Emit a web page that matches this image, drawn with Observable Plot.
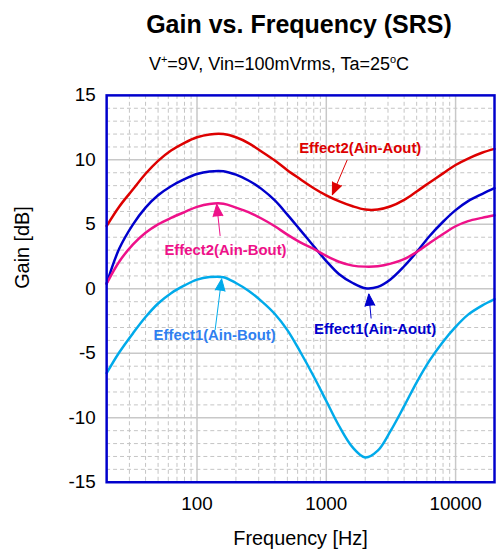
<!DOCTYPE html>
<html>
<head>
<meta charset="utf-8">
<script src="https://cdn.jsdelivr.net/npm/d3@7"></script>
<script src="https://cdn.jsdelivr.net/npm/@observablehq/plot@0.6"></script>
<style>
html, body { margin: 0; padding: 0; background: #fff; overflow: hidden; width: 496px; height: 556px; }
#wrap { position: relative; width: 496px; height: 556px; overflow: hidden; font-family: "Liberation Sans", Arial, sans-serif; color: #000; }
.ttl { position: absolute; width: 600px; text-align: center; white-space: nowrap; line-height: 1; }
#title { left: -1px; top: 12px; font-size: 25px; font-weight: bold; }
#subtitle { left: -21px; top: 55px; font-size: 18px; }
.sp { position: relative; font-size: 11px; top: -7px; }
#chart { position: absolute; left: 0; top: 80px; }
</style>
</head>
<body>
<div id="wrap">
  <div id="title" class="ttl">Gain vs. Frequency (SRS)</div>
  <div id="subtitle" class="ttl">V<span class="sp">+</span>=9V, Vin=100mVrms, Ta=25<span class="sp">o</span>C</div>
  <div id="chart"></div>
</div>
<script>
// ---- data (1/3-octave frequencies) ----
const freq = [20, 25, 32, 40, 50, 63, 80, 100, 125, 160, 200, 250, 315, 400, 500, 630, 800, 1000, 1250, 1600, 2000, 2500, 3150, 4000, 5000, 6300, 8000, 10000, 12500, 16000, 20000];
const effect2AinAout = [4.87, 6.37, 7.72, 8.92, 9.92, 10.72, 11.32, 11.75, 11.97, 12.0, 11.75, 11.3, 10.65, 9.95, 9.2, 8.5, 7.8, 7.25, 6.8, 6.4, 6.15, 6.15, 6.4, 6.9, 7.55, 8.25, 8.95, 9.6, 10.1, 10.55, 10.85];
const effect1AinAout = [0.4, 3.1, 5.0, 6.3, 7.25, 7.95, 8.5, 8.9, 9.1, 9.12, 8.85, 8.4, 7.75, 6.85, 5.75, 4.55, 3.3, 2.15, 1.15, 0.45, 0.05, 0.15, 0.75, 1.75, 2.85, 4.1, 5.2, 6.1, 6.8, 7.35, 7.8];
const effect2AinBout = [0.4, 2.1, 3.45, 4.35, 5.0, 5.5, 5.95, 6.35, 6.58, 6.6, 6.3, 5.95, 5.45, 4.85, 4.2, 3.6, 3.1, 2.55, 2.1, 1.8, 1.72, 1.75, 1.95, 2.3, 2.85, 3.55, 4.25, 4.85, 5.25, 5.5, 5.7];
const effect1AinBout = [-6.54, -4.94, -3.44, -2.19, -1.14, -0.34, 0.26, 0.71, 0.91, 0.9, 0.45, -0.15, -0.95, -1.95, -3.2, -4.9, -6.8, -8.7, -10.6, -12.3, -13.08, -12.55, -11.0, -9.1, -7.25, -5.55, -4.1, -2.95, -2.0, -1.3, -0.8];

const xTicks = [100, 1000, 10000];
const yTicks = [-15, -10, -5, 0, 5, 10, 15];

const seriesNames = ["Effect2(Ain-Aout)", "Effect1(Ain-Aout)", "Effect2(Ain-Bout)", "Effect1(Ain-Bout)"];
const seriesValues = [effect2AinAout, effect1AinAout, effect2AinBout, effect1AinBout];
const seriesColors = ["#dd0000", "#0000cc", "#ee1189", "#00aaea"];

// annotations: label position, arrow tail, arrow tip (frequency, gain)
const annLabels = ["Effect2(Ain-Aout)", "Effect2(Ain-Bout)", "Effect1(Ain-Bout)", "Effect1(Ain-Aout)"];
const annTextF = [1830, 166, 137, 2383];
const annTextG = [10.9, 3.0, -3.6, -3.1];
const annTailF = [1452, 151, 138, 2222];
const annTailG = [10.0, 4.1, -3.2, -2.3];
const annTipF = [1114, 142, 155, 2133];
const annTipG = [7.3, 6.55, 0.77, -0.4];
const annTextColors = ["#dd0000", "#ee1189", "#2f7ff0", "#0000cc"];
const annArrowColors = ["#dd0000", "#ee1189", "#00aaea", "#0000cc"];

// ---- layout ----
const W = 500, H = 476, ML = 107, MR = 2, MT = 15, MB = 71;

const rows = seriesNames.map((name, s) => freq.map((f, i) => ({f, g: seriesValues[s][i], name})));
const anns = annLabels.map((label, i) => ({
  label, tf: annTextF[i], tg: annTextG[i], af: annTailF[i], ag: annTailG[i],
  hf: annTipF[i], hg: annTipG[i], tc: annTextColors[i], ac: annArrowColors[i]
}));

// grid positions
const minorX = [];
for (const dec of [10, 100, 1000, 10000]) for (let k = 2; k <= 9; k++) {
  const v = k * dec; if (v >= 20 && v <= 20000) minorX.push(v);
}
const minorY = d3.range(-14, 15).filter(v => v % 5 !== 0);
const majorY = [-10, -5, 0, 5, 10];

// pixel scales matching the plot (for arrowhead angles)
const px = d3.scaleLog().domain([20, 20000]).range([ML, W - MR]);
const py = d3.scaleLinear().domain([-15, 15]).range([H - MB, MT]);
anns.forEach(a => {
  const dx = px(a.hf) - px(a.af), dy = py(a.hg) - py(a.ag);
  a.rot = Math.atan2(dx, -dy) * 180 / Math.PI;
});

const marks = [
  Plot.ruleX(minorX, {stroke: "#c4c4c4", strokeWidth: 1, strokeDasharray: "4,3"}),
  Plot.ruleY(minorY, {stroke: "#c4c4c4", strokeWidth: 1, strokeDasharray: "4,3"}),
  Plot.ruleX(xTicks, {stroke: "#c8c8c8", strokeWidth: 1.5}),
  Plot.ruleY(majorY, {stroke: "#c8c8c8", strokeWidth: 1.5}),
];
seriesNames.forEach((name, s) => {
  marks.push(Plot.line(rows[s], {x: "f", y: "g", stroke: seriesColors[s], strokeWidth: 2.5, curve: "catmull-rom"}));
});
anns.forEach(a => {
  marks.push(Plot.link([a], {x1: "af", y1: "ag", x2: "hf", y2: "hg", stroke: a.ac, strokeWidth: 1}));
  marks.push(Plot.vector([a], {x: "hf", y: "hg", rotate: "rot", length: 12, r: 5, shape: "spike", anchor: "end", fill: a.ac, stroke: a.ac, strokeWidth: 1}));
  marks.push(Plot.text([a], {x: "tf", y: "tg", text: "label", fill: a.tc, fontWeight: "bold", fontSize: 15}));
});
marks.push(
  Plot.frame({stroke: "#0000cc", strokeWidth: 2.5}),
  Plot.axisX({ticks: xTicks, tickSize: 0, tickPadding: 14, tickFormat: d => String(d), fontSize: 19, label: null}),
  Plot.axisY({ticks: yTicks, tickSize: 0, tickPadding: 11, tickFormat: d => String(d), fontSize: 19, label: null}),
  Plot.text(["Frequency [Hz]"], {frameAnchor: "bottom", dy: 63, fontSize: 20}),
  Plot.text(["Gain [dB]"], {frameAnchor: "left", dx: -85, rotate: -90, fontSize: 20})
);

const chart = Plot.plot({
  width: W, height: H,
  marginLeft: ML, marginRight: MR, marginTop: MT, marginBottom: MB,
  style: {fontFamily: "'Liberation Sans', Arial, sans-serif", background: "white", color: "black", overflow: "visible"},
  x: {type: "log", domain: [20, 20000]},
  y: {domain: [-15, 15]},
  marks
});
document.getElementById("chart").appendChild(chart);
</script>
</body>
</html>
